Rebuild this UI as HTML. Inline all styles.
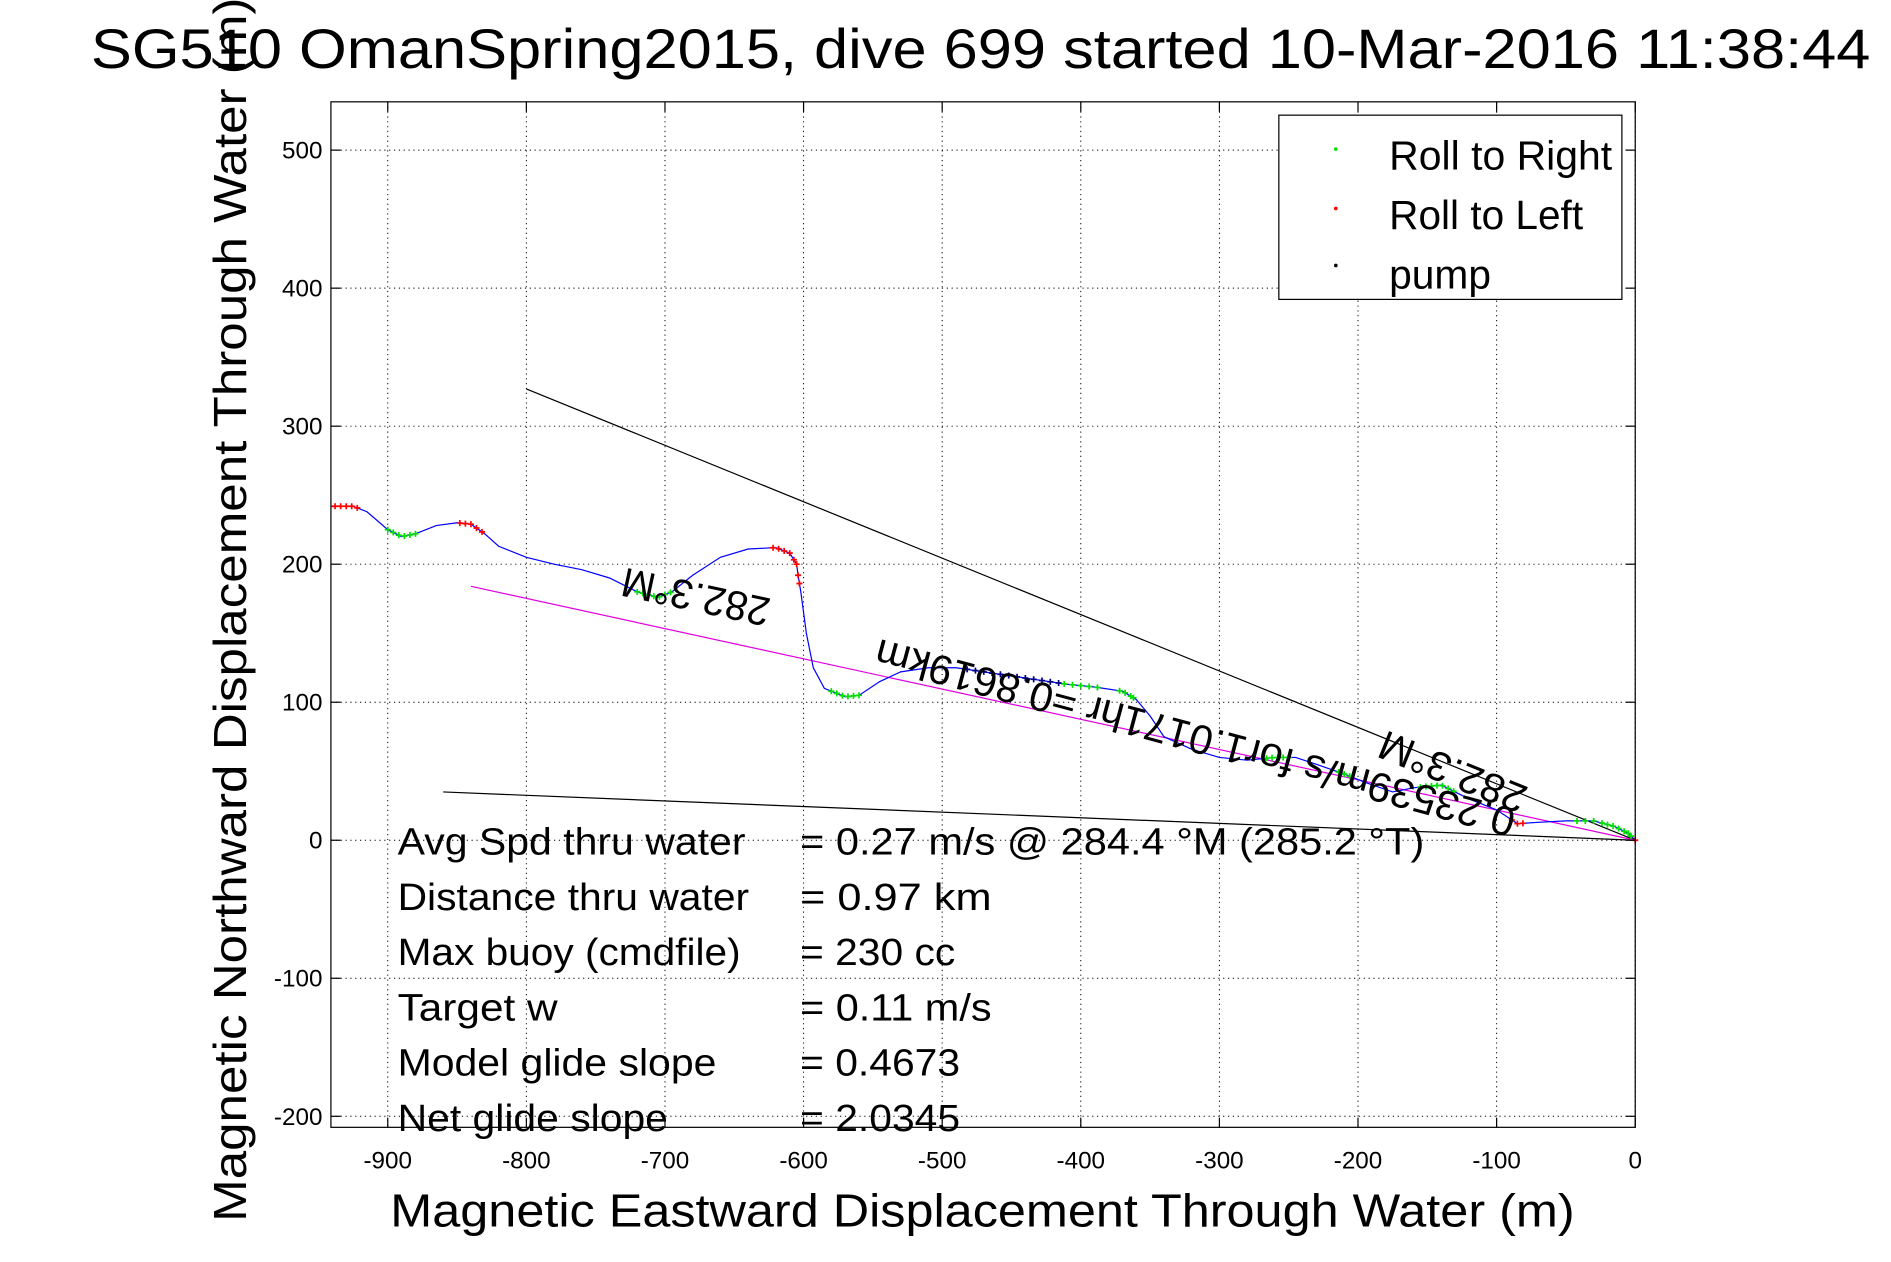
<!DOCTYPE html>
<html><head><meta charset="utf-8"><style>
html,body{margin:0;padding:0;background:#fff;}
svg{display:block;font-family:"Liberation Sans",sans-serif;}
</style></head><body>
<svg id="chart" width="1891" height="1262" viewBox="0 0 1560 1041.1" preserveAspectRatio="none" xmlns="http://www.w3.org/2000/svg">
<rect x="0" y="0" width="1560" height="1042" fill="#fff"/>
<g id="grid"></g>
<g id="marks"></g>
<rect x="273" y="84" width="1076" height="846" fill="none" stroke="#000" stroke-width="1"/>
<g id="ticks"></g>
<text x="75" y="56" font-size="46" textLength="1468" lengthAdjust="spacingAndGlyphs">SG510 OmanSpring2015, dive 699 started 10-Mar-2016 11:38:44</text>
<text x="322" y="1012" font-size="38" textLength="977" lengthAdjust="spacingAndGlyphs">Magnetic Eastward Displacement Through Water (m)</text>
<text transform="translate(203,1008) rotate(-90)" font-size="38" textLength="1010" lengthAdjust="spacingAndGlyphs">Magnetic Northward Displacement Through Water (m)</text>
<g>
<rect x="1055" y="95" width="283" height="152" fill="#fff" stroke="#000"/>
<circle cx="1102" cy="123" r="1.5" fill="#00e000"/>
<text x="1146" y="140" font-size="34" textLength="184" lengthAdjust="spacingAndGlyphs">Roll to Right</text>
<circle cx="1102" cy="172" r="1.5" fill="#f00"/>
<text x="1146" y="189" font-size="34" textLength="160" lengthAdjust="spacingAndGlyphs">Roll to Left</text>
<circle cx="1102" cy="219" r="1.5" fill="#000"/>
<text x="1146" y="238" font-size="34" textLength="84" lengthAdjust="spacingAndGlyphs">pump</text>
</g>
<g id="stats" font-size="31"></g>
</svg>
<script>
const xTicks=[-900,-800,-700,-600,-500,-400,-300,-200,-100,0];
const yTicks=[-200,-100,0,100,200,300,400,500];
const trackX=[-941,-925,-915,-900,-890,-880,-865,-850,-840,-830,-820,-800,-780,-760,-740,-720,-705,-695,-680,-660,-640,-620,-610,-605,-604,-602,-598,-593,-585,-570,-560,-545,-530,-510,-490,-470,-450,-430,-410,-390,-370,-360,-350,-340,-320,-300,-280,-260,-245,-230,-210,-195,-175,-160,-140,-120,-100,-85,-70,-50,-30,-15,-5,0];
const trackY=[242,242,238,225,220,222,228,230,229,222,213,205,200,196,190,180,176,180,192,205,211,212,208,200,192,180,150,125,110,104,105,115,122,125,125,122,119,116,113,111,108,102,90,75,66,60,58,60,60,55,48,42,35,38,40,30,22,12,13,14,14,10,5,0];
const rollRightX=[-900,-896,-892,-888,-884,-880,-720,-716,-712,-708,-704,-700,-696,-580,-576,-572,-568,-564,-560,-412,-406,-400,-394,-388,-372,-368,-364,-362,-266,-262,-258,-254,-250,-214,-210,-206,-155,-151,-147,-143,-139,-135,-131,-42,-36,-30,-24,-20,-16,-12,-8,-5,-3];
const rollLeftX=[-938,-934,-930,-926,-922,-848,-844,-840,-836,-832,-622,-618,-614,-610,-607,-605,-604,-603,-89,-85,-81,0];
const pumpX=[-482,-476,-470,-464,-458,-452,-446,-440,-434,-428,-422,-416];
const refLineTopX=[-800,0],refLineTopY=[327,0];
const refLineBotX=[-860,0],refLineBotY=[35,0];
const avgLineX=[-840,0],avgLineY=[184,0];
const statLabels=["Avg Spd thru water","Distance thru water","Max buoy (cmdfile)","Target w","Model glide slope","Net glide slope"];
const statValues=["=  0.27 m/s @ 284.4  °M (285.2  °T)","=  0.97 km","= 230 cc","= 0.11 m/s","= 0.4673","= 2.0345"];
const statLabelWidths=[287,290,283,132,263,223];
const statValueWidths=[515,158,128,158,132,132];

const X0=273,X1=1349,Y0=930,Y1=84,XMIN=-941,XMAX=0,YMIN=-208,YMAX=535;
const sx=v=>X0+(v-XMIN)/(XMAX-XMIN)*(X1-X0);
const sy=v=>Y0-(v-YMIN)/(YMAX-YMIN)*(Y0-Y1);
const NS="http://www.w3.org/2000/svg";
function mk(tag,attrs,parent){const e=document.createElementNS(NS,tag);for(const k in attrs)e.setAttribute(k,attrs[k]);parent.appendChild(e);return e;}
const grid=document.getElementById('grid'),ticks=document.getElementById('ticks'),marks=document.getElementById('marks');
xTicks.forEach(t=>{const x=sx(t);
 const g=mk('line',{x1:x,x2:x,y1:Y1,y2:Y0,stroke:'#000','stroke-width':0.8,'stroke-dasharray':'1 3'},grid);
 
 const l=mk('line',{x1:x,x2:x,y1:Y0,y2:Y0-8,stroke:'#000'},ticks);
 const l2=mk('line',{x1:x,x2:x,y1:Y1,y2:Y1+8,stroke:'#000'},ticks);
 const tx=mk('text',{x:x,y:964,'font-size':20,'text-anchor':'middle'},ticks);tx.textContent=t;
 });
yTicks.forEach(t=>{const y=sy(t);
 const g=mk('line',{x1:X0,x2:X1,y1:y,y2:y,stroke:'#000','stroke-width':0.8,'stroke-dasharray':'1 3'},grid);
 
 const l=mk('line',{x1:X0,x2:X0+8,y1:y,y2:y,stroke:'#000'},ticks);
 const l2=mk('line',{x1:X1,x2:X1-8,y1:y,y2:y,stroke:'#000'},ticks);
 const tx=mk('text',{x:266,y:y+7,'font-size':20,'text-anchor':'end'},ticks);tx.textContent=t;
 });
function line(xs,ys,color,name,dash){const l=mk('line',{x1:sx(xs[0]),y1:sy(ys[0]),x2:sx(xs[1]),y2:sy(ys[1]),stroke:color,'stroke-width':1},marks);
 if(dash)l.setAttribute('stroke-dasharray',dash);
 }
line(refLineTopX,refLineTopY,'#000','heading-line-top');
line(refLineBotX,refLineBotY,'#000','heading-line-bottom');
line(avgLineX,avgLineY,'#e000e0','average-track-line');
const track=mk('polyline',{points:trackX.map((x,i)=>sx(x)+','+sy(trackY[i])).join(' '),fill:'none',stroke:'#0000ff','stroke-width':1},marks);

function interpY(x){for(let i=0;i<trackX.length-1;i++){if(x>=trackX[i]&&x<=trackX[i+1]){const f=(x-trackX[i])/((trackX[i+1]-trackX[i])||1);return trackY[i]+f*(trackY[i+1]-trackY[i]);}}return 0;}
function plus(xs,color,name){xs.forEach(x=>{const cx=sx(x),cy=sy(interpY(x));
 const p=mk('path',{d:`M${cx-2.5},${cy}h5M${cx},${cy-2.5}v5`,stroke:color,'stroke-width':1.4},marks);
 });}
plus(rollRightX,'#00e000','roll-right-marker');
plus(rollLeftX,'#ff0000','roll-left-marker');
plus(pumpX,'#000080','pump-marker');
function rtext(str,x,y,ang,size,len,name){const t=mk('text',{transform:`translate(${x},${y}) rotate(${ang})`,'font-size':size,textLength:len,lengthAdjust:'spacingAndGlyphs'},marks);t.textContent=str;
 }
rtext('282.3°M',637,494,192,34,124,'heading-label-average');
rtext('0.23539m/s for1.0171hr =0.8619km',1252,668,195,34,545,'speed-distance-label');
rtext('282.3°M',1262,650,202,34,128,'heading-label-top');
const stats=document.getElementById('stats');
statLabels.forEach((s,i)=>{const y=705+i*45.6;
 const a=mk('text',{x:328,y:y,textLength:statLabelWidths[i],lengthAdjust:'spacingAndGlyphs'},stats);a.textContent=s;
 const b=mk('text',{x:660,y:y,textLength:statValueWidths[i],lengthAdjust:'spacingAndGlyphs'},stats);b.textContent=statValues[i];});
</script>
</body></html>
